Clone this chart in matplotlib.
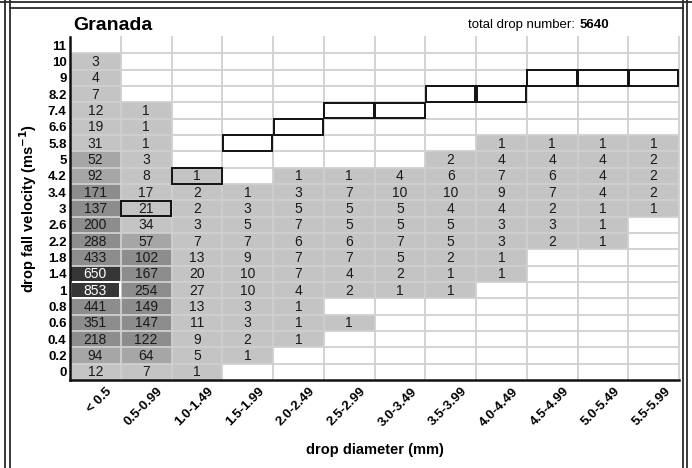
import matplotlib
matplotlib.use("Agg")
import matplotlib.pyplot as plt
from matplotlib.patches import Rectangle
from matplotlib.lines import Line2D
import matplotlib.transforms as mtransforms

plt.rcParams['font.family'] = ['Liberation Sans', 'DejaVu Sans']

# ---------------- data ----------------
diameter_classes = ["< 0.5", "0.5-0.99", "1.0-1.49", "1.5-1.99", "2.0-2.49", "2.5-2.99",
                    "3.0-3.49", "3.5-3.99", "4.0-4.49", "4.5-4.99", "5.0-5.49", "5.5-5.99"]
velocity_classes = ["0", "0.2", "0.4", "0.6", "0.8", "1", "1.4", "1.8", "2.2", "2.6", "3",
                    "3.4", "4.2", "5", "5.8", "6.6", "7.4", "8.2", "9", "10", "11"]

# counts per velocity class (bottom to top), one value per diameter class
v_0   = [12, 7, 1, 0, 0, 0, 0, 0, 0, 0, 0, 0]
v_02  = [94, 64, 5, 1, 0, 0, 0, 0, 0, 0, 0, 0]
v_04  = [218, 122, 9, 2, 1, 0, 0, 0, 0, 0, 0, 0]
v_06  = [351, 147, 11, 3, 1, 1, 0, 0, 0, 0, 0, 0]
v_08  = [441, 149, 13, 3, 1, 0, 0, 0, 0, 0, 0, 0]
v_1   = [853, 254, 27, 10, 4, 2, 1, 1, 0, 0, 0, 0]
v_14  = [650, 167, 20, 10, 7, 4, 2, 1, 1, 0, 0, 0]
v_18  = [433, 102, 13, 9, 7, 7, 5, 2, 1, 0, 0, 0]
v_22  = [288, 57, 7, 7, 6, 6, 7, 5, 3, 2, 1, 0]
v_26  = [200, 34, 3, 5, 7, 5, 5, 5, 3, 3, 1, 0]
v_3   = [137, 21, 2, 3, 5, 5, 5, 4, 4, 2, 1, 1]
v_34  = [171, 17, 2, 1, 3, 7, 10, 10, 9, 7, 4, 2]
v_42  = [92, 8, 1, 0, 1, 1, 4, 6, 7, 6, 4, 2]
v_5   = [52, 3, 0, 0, 0, 0, 0, 2, 4, 4, 4, 2]
v_58  = [31, 1, 0, 0, 0, 0, 0, 0, 1, 1, 1, 1]
v_66  = [19, 1, 0, 0, 0, 0, 0, 0, 0, 0, 0, 0]
v_74  = [12, 1, 0, 0, 0, 0, 0, 0, 0, 0, 0, 0]
v_82  = [7, 0, 0, 0, 0, 0, 0, 0, 0, 0, 0, 0]
v_9   = [4, 0, 0, 0, 0, 0, 0, 0, 0, 0, 0, 0]
v_10  = [3, 0, 0, 0, 0, 0, 0, 0, 0, 0, 0, 0]
v_11  = [0, 0, 0, 0, 0, 0, 0, 0, 0, 0, 0, 0]
counts = [v_0, v_02, v_04, v_06, v_08, v_1, v_14, v_18, v_22, v_26, v_3,
          v_34, v_42, v_5, v_58, v_66, v_74, v_82, v_9, v_10, v_11]

# outlined (reference) velocity class for each diameter class
marked_velocity = ["1", "3", "4.2", "5.8", "6.6", "7.4", "7.4", "8.2", "8.2", "9", "9", "9"]

title = "Granada"
total_label = "total drop number: "
total_value = "5640"

# ---------------- style ----------------
def shade(v):
    if v >= 500:
        return "#363636"
    if v >= 100:
        return "#8d8d8d"
    if v >= 50:
        return "#a6a6a6"
    return "#c4c4c4"

W, H = 692, 468
fig = plt.figure(figsize=(W / 100, H / 100), dpi=100)
fig.patch.set_facecolor("white")
ax = fig.add_axes([70 / W, 88 / H, 609 / W, 343 / H])

ncol = len(diameter_classes)
nrow = len(velocity_classes)
ax.set_xlim(0, ncol)
ax.set_ylim(0, nrow)

for r, row in enumerate(counts):
    for c, v in enumerate(row):
        if v > 0:
            ax.add_patch(Rectangle((c, r), 1, 1, facecolor=shade(v), edgecolor="none", zorder=1))
            ax.text(c + 0.5, r + 0.47, str(v), ha="center", va="center", fontsize=10,
                    color="white" if v >= 500 else "#1a1a1a", zorder=4)

# grid lines
for c in range(1, ncol + 1):
    ax.plot([c, c], [0, nrow], color="#d0d0d0", lw=1.3, zorder=2, clip_on=False)
for r in range(1, nrow):
    ax.plot([0, ncol], [r, r], color="#d0d0d0", lw=1.3, zorder=2)

# outlined cells
for c, vel in enumerate(marked_velocity):
    r = velocity_classes.index(vel)
    val = counts[r][c]
    ec = "white" if val >= 500 else "#111111"
    ax.add_patch(Rectangle((c + 0.01, r + 0.02), 0.98, 0.96, fill=False, edgecolor=ec,
                           lw=1.4, zorder=5))

for s in ["top", "right"]:
    ax.spines[s].set_visible(False)
for s in ["left", "bottom"]:
    ax.spines[s].set_linewidth(1.8)
    ax.spines[s].set_color("#111111")
    ax.spines[s].set_zorder(6)

ax.set_yticks([i + 0.5 for i in range(nrow)])
ax.set_yticklabels(velocity_classes, fontsize=9.5, fontweight="bold")
ax.set_xticks([i + 0.5 for i in range(ncol)])
ax.set_xticklabels(diameter_classes, fontsize=9.5, fontweight="bold", rotation=45,
                   ha="right", va="center", rotation_mode="anchor")
ax.tick_params(axis="both", length=0)
ax.tick_params(axis="y", pad=2.5)
ax.tick_params(axis="x", pad=7)
off = mtransforms.ScaledTranslation(15 / 100, 0, fig.dpi_scale_trans)
for lab in ax.get_xticklabels():
    lab.set_transform(lab.get_transform() + off)

ax.set_xlabel("drop diameter (mm)", fontsize=10.5, fontweight="bold", labelpad=10)
ax.xaxis.set_label_coords(0.5, -(450 - 380) / 343, transform=ax.transAxes)
ax.xaxis.label.set_va("center")
ax.set_ylabel("drop fall velocity (ms$^{\\mathbf{-1}}$)", fontsize=10.5, fontweight="bold")
ax.yaxis.set_label_coords(-(70 - 28) / 609, 0.5, transform=ax.transAxes)
ax.yaxis.label.set_va("center")

fig.text(73 / W, 1 - 25 / H, title, fontsize=14, fontweight="bold", ha="left", va="center")
fig.text(579 / W, 1 - 25 / H, total_label, fontsize=9.5, ha="right", va="center")
fig.text(580 / W, 1 - 25 / H, total_value, fontsize=9.5, fontweight="bold", ha="left", va="center")

# double frame
def fline(x0, y0, x1, y1, lw=1.3, color="#2a2a2a"):
    fig.add_artist(Line2D([x0 / W, x1 / W], [1 - y0 / H, 1 - y1 / H], color=color, lw=lw,
                          transform=fig.transFigure))

fline(0, 1.5, W, 1.5)
fline(9.5, 7.5, 682.5, 7.5)
fline(4.5, 0, 4.5, H)
fline(9.5, 0, 9.5, H)
fline(682.5, 0, 682.5, H)
fline(686.5, 0, 686.5, H)

fig.savefig("out.png", dpi=100)
